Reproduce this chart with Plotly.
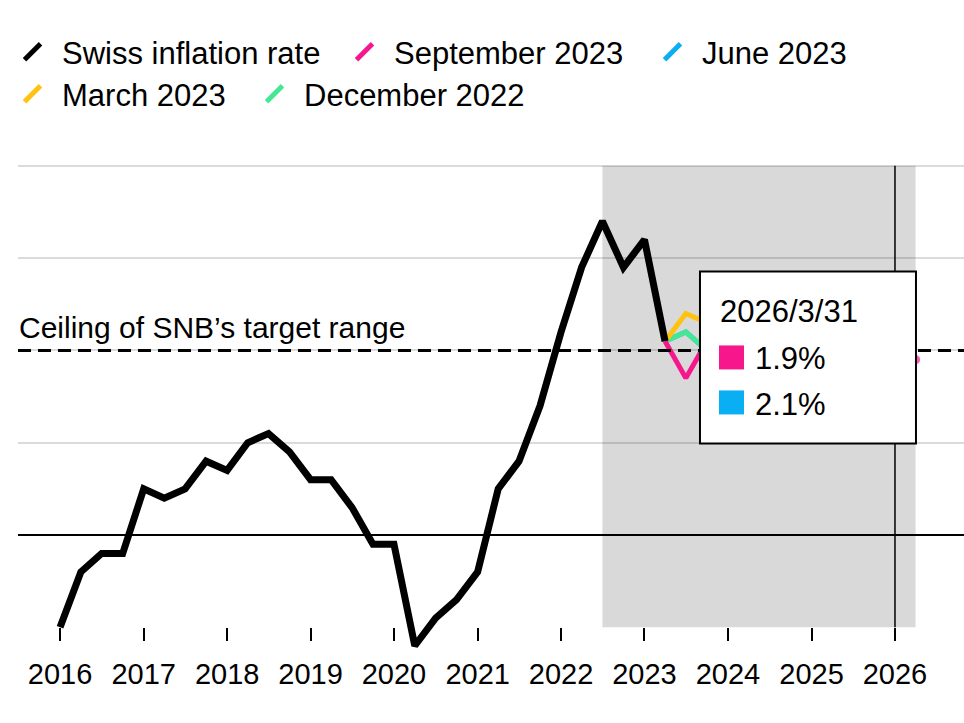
import pandas as pd
import plotly.graph_objects as go

# ---------------- data ----------------
years = list(range(2016, 2027))
tick_labels = [str(y) for y in years]

# Swiss inflation rate, quarterly from 2016 Q1 to 2023 Q2 (%)
actual_values = [-1.0, -0.4, -0.2, -0.2, 0.5, 0.4, 0.5, 0.8,
                 0.7, 1.0, 1.1, 0.9, 0.6, 0.6, 0.3, -0.1,
                 -0.1, -1.2, -0.9, -0.7, -0.4, 0.5, 0.8, 1.4,
                 2.2, 2.9, 3.4, 2.9, 3.2, 2.1]

# SNB conditional forecasts, quarterly from 2023 Q2 (%)
sep_2023 = [2.1, 1.7, 2.1, 2.1, 2.2, 2.2, 2.2, 2.0, 1.9, 1.9, 1.9, 1.9, 1.9]
jun_2023 = [2.1, 2.2, 2.0, 2.1, 2.2, 2.2, 2.1, 2.1, 2.1, 2.1, 2.1, 2.1]
mar_2023 = [2.1, 2.4, 2.3, 2.1, 2.0, 2.0, 1.9, 2.0, 2.0, 2.0, 2.0]
dec_2022 = [2.1, 2.2, 2.0, 1.9, 1.8, 1.7, 1.7, 1.8, 1.8, 1.8]

legend_names = ["Swiss inflation rate", "September 2023", "June 2023",
                "March 2023", "December 2022"]

ceiling = 2.0
ceiling_label = "Ceiling of SNB\u2019s target range"
forecast_window = ("2022-07-01", "2026-04-01")
hover_date = "2026-01-01"
hover_label = "2026/3/31"

actual_dates = pd.date_range("2016-01-01", periods=len(actual_values), freq="QS")
def fc_dates(vals):
    return pd.date_range("2023-04-01", periods=len(vals), freq="QS")

# ---------------- style ----------------
FONT = "Liberation Sans, Arial, Helvetica, sans-serif"
C_BLACK = "#000000"
C_PINK = "#f7168c"
C_BLUE = "#0aaef2"
C_YELLOW = "#ffc20e"
C_GREEN = "#45e892"
colors = {"Swiss inflation rate": C_BLACK, "September 2023": C_PINK,
          "June 2023": C_BLUE, "March 2023": C_YELLOW, "December 2022": C_GREEN}

# legend placement (pixels in the 964x723 page): (left, top)
legend_pos = {"Swiss inflation rate": (3, 25), "September 2023": (335, 25),
              "June 2023": (643, 25), "March 2023": (3, 67),
              "December 2022": (245, 67)}

series = [
    ("June 2023", jun_2023),
    ("December 2022", dec_2022),
    ("March 2023", mar_2023),
    ("September 2023", sep_2023),
]

fig = go.Figure()
for name, vals in series:
    col = colors[name]
    sizes = [0] * len(vals)
    if name == "September 2023":
        sizes[-1] = 10
    fig.add_trace(go.Scatter(
        x=fc_dates(vals), y=vals, name=name, showlegend=False,
        mode="lines+markers", line=dict(color=col, width=5),
        marker=dict(size=sizes, color=col), hoverinfo="skip"))

fig.add_trace(go.Scatter(
    x=actual_dates, y=actual_values, name="Swiss inflation rate",
    showlegend=False, mode="lines",
    line=dict(color=C_BLACK, width=7), hoverinfo="skip"))

# legend entries (diagonal stroke symbols), one legend box per entry
legend_layout = {}
for i, name in enumerate(legend_names):
    key = "legend" if i == 0 else f"legend{i + 1}"
    col = colors[name]
    fig.add_trace(go.Scatter(
        x=[None], y=[None], name=name, mode="markers", legend=key,
        marker=dict(symbol="line-ne", size=16, color=col,
                    line=dict(color=col, width=5))))
    lx, ly = legend_pos[name]
    legend_layout[key] = dict(
        orientation="h", xref="container", yref="container",
        x=lx / 964, y=1 - ly / 723, xanchor="left", yanchor="top",
        font=dict(size=31, color=C_BLACK, family=FONT),
        itemwidth=49, bgcolor="rgba(0,0,0,0)")

y_min, y_max = -1.3, 4.02
axis_pos = (-1.0 - y_min) / (y_max - y_min)

# shapes
shapes = [
    dict(type="rect", xref="x", yref="y", x0=forecast_window[0], x1=forecast_window[1],
         y0=-1.0, y1=4.0, fillcolor="#d9d9d9", line=dict(width=0), layer="below"),
    dict(type="line", xref="paper", yref="y", x0=0, x1=1, y0=ceiling, y1=ceiling,
         line=dict(color=C_BLACK, width=3, dash="13px,7px"), layer="above"),
    dict(type="line", xref="x", yref="y", x0=hover_date, x1=hover_date,
         y0=-1.0, y1=4.0, line=dict(color=C_BLACK, width=1.5), layer="above"),
    # tooltip box
    dict(type="rect", xref="x", yref="y", xsizemode="pixel", ysizemode="pixel",
         xanchor=hover_date, yanchor=ceiling, x0=-195, x1=21, y0=-93, y1=79,
         fillcolor="white", line=dict(color=C_BLACK, width=2), layer="above"),
    dict(type="rect", xref="x", yref="y", xsizemode="pixel", ysizemode="pixel",
         xanchor=hover_date, yanchor=ceiling, x0=-176, x1=-151, y0=-19, y1=5,
         fillcolor=C_PINK, line=dict(width=0), layer="above"),
    dict(type="rect", xref="x", yref="y", xsizemode="pixel", ysizemode="pixel",
         xanchor=hover_date, yanchor=ceiling, x0=-176, x1=-151, y0=-64, y1=-40,
         fillcolor=C_BLUE, line=dict(width=0), layer="above"),
]

hover_idx_sep = list(fc_dates(sep_2023)).index(pd.Timestamp(hover_date))
hover_idx_jun = list(fc_dates(jun_2023)).index(pd.Timestamp(hover_date))

annotations = [
    dict(text=ceiling_label, xref="paper", yref="y", x=0, y=ceiling,
         xanchor="left", yanchor="bottom", yshift=4, xshift=-1, showarrow=False,
         font=dict(size=30, color=C_BLACK, family=FONT)),
    dict(text=hover_label, xref="x", yref="y", x=hover_date, y=ceiling,
         xanchor="left", yanchor="middle", xshift=-177, yshift=39, showarrow=False,
         font=dict(size=31, color=C_BLACK, family=FONT)),
    dict(text=f"{sep_2023[hover_idx_sep]:.1f}%", xref="x", yref="y", x=hover_date, y=ceiling,
         xanchor="left", yanchor="middle", xshift=-142, yshift=-8, showarrow=False,
         font=dict(size=31, color=C_BLACK, family=FONT)),
    dict(text=f"{jun_2023[hover_idx_jun]:.1f}%", xref="x", yref="y", x=hover_date, y=ceiling,
         xanchor="left", yanchor="middle", xshift=-142, yshift=-54, showarrow=False,
         font=dict(size=31, color=C_BLACK, family=FONT)),
]

fig.update_layout(
    width=964, height=723,
    margin=dict(l=18, r=0, t=164, b=68),
    paper_bgcolor="white", plot_bgcolor="white",
    font=dict(family=FONT, color=C_BLACK),
    showlegend=True,
    shapes=shapes,
    annotations=annotations,
    hovermode=False,
    xaxis=dict(type="date", range=["2015-07-01", "2026-10-30"],
               tickvals=[f"{y}-01-01" for y in years], ticktext=tick_labels,
               ticks="outside", ticklen=13, tickwidth=2, tickcolor=C_BLACK,
               showgrid=False, zeroline=False, showline=False,
               anchor="free", position=axis_pos, ticklabelstandoff=8,
               tickfont=dict(size=29, color=C_BLACK, family=FONT)),
    yaxis=dict(range=[y_min, y_max], tickvals=[1, 2, 3, 4], showticklabels=False,
               showgrid=True, gridcolor="rgba(0,0,0,0.14)", gridwidth=2,
               zeroline=True, zerolinecolor=C_BLACK, zerolinewidth=1.5,
               showline=False, ticks=""),
    **legend_layout,
)

fig.write_html("out.html", config={"displayModeBar": False},
               post_script="document.body.style.margin='0';")
